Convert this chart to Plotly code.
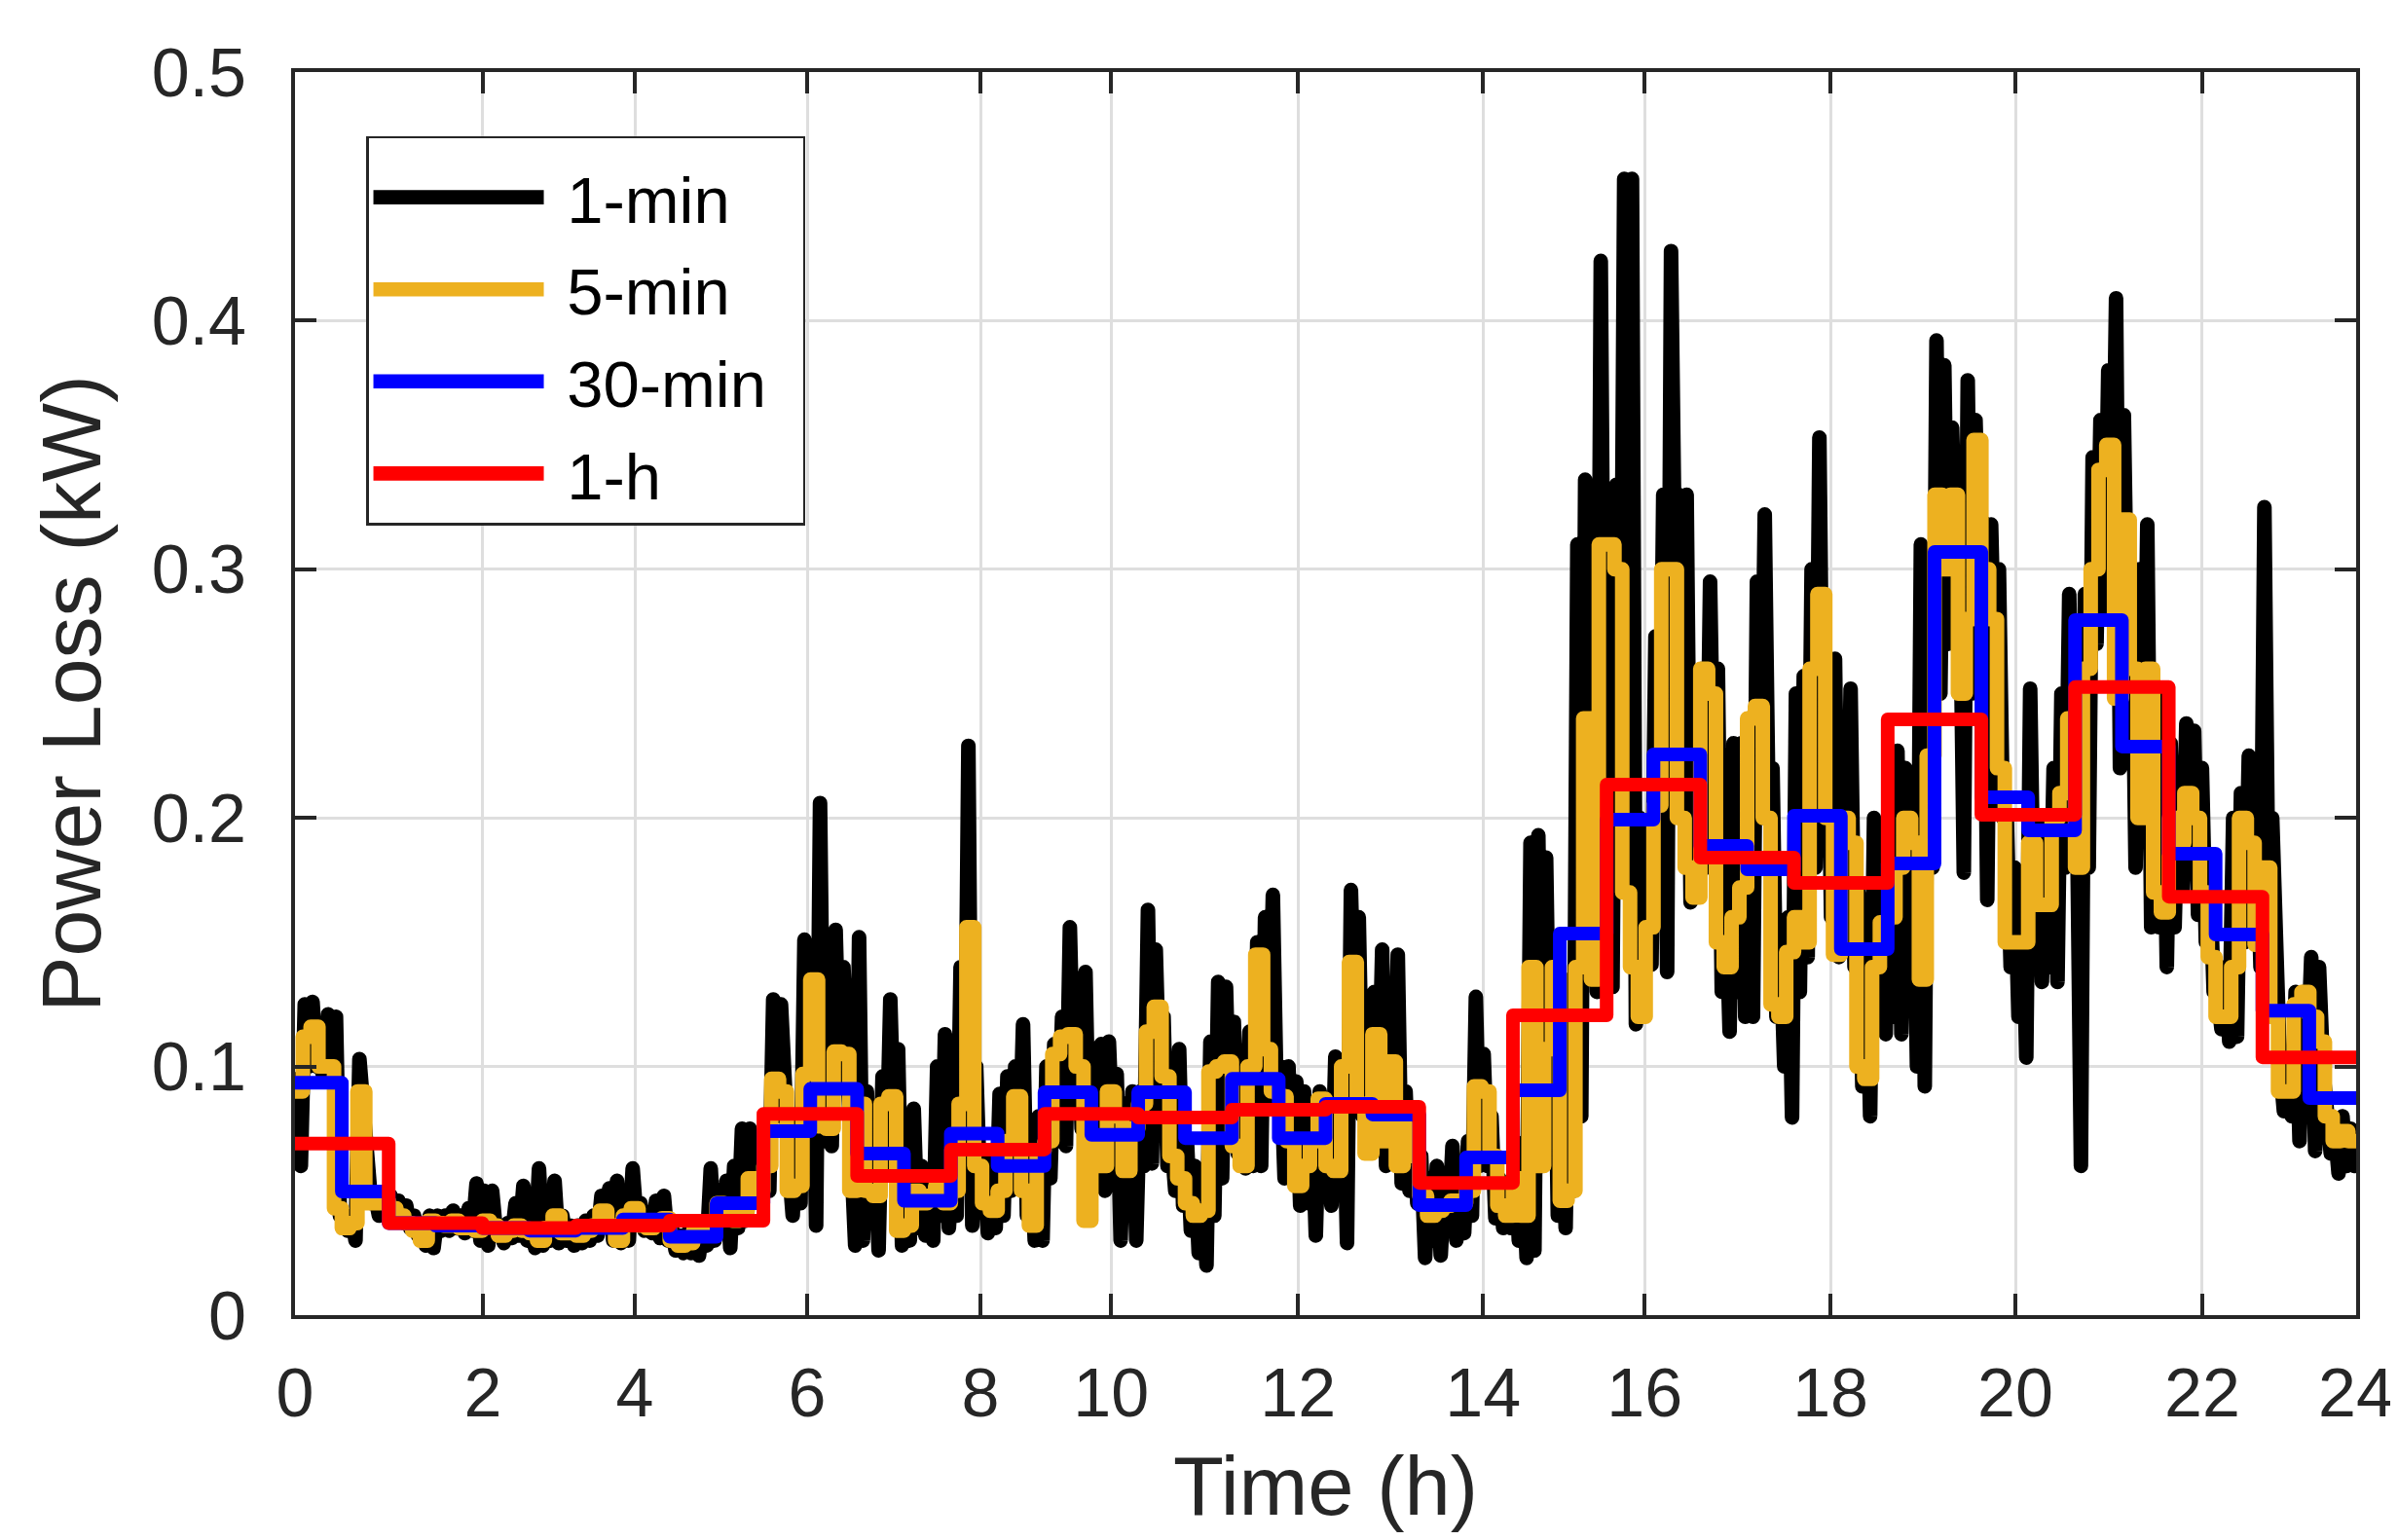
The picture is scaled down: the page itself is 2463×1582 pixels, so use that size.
import numpy as np
import plotly.graph_objects as go

# ---------------- data (kW) ----------------
tick_text = ["0", "2", "4", "6", "8", "10", "12", "14", "16", "18", "20", "22", "24"]
# positions of the time tick labels, in hours-of-data units (axis is not uniform)
tick_pos = [0, 2.005, 3.627, 5.467, 7.316, 8.711, 10.706, 12.680, 14.405, 16.389, 18.363, 20.357, 22.0]
y_tick_vals = [0, 0.1, 0.2, 0.3, 0.4, 0.5]
y_tick_text = ["0", "0.1", "0.2", "0.3", "0.4", "0.5"]
series_names = ["1-min", "5-min", "30-min", "1-h"]

loss_1h = [0.069, 0.037, 0.035, 0.036, 0.038, 0.081, 0.056, 0.0666, 0.081, 0.0795, 0.0826,
           0.0838, 0.0532, 0.1206, 0.2134, 0.184, 0.1738, 0.2396, 0.2013, 0.2526, 0.1683, 0.1037]

loss_30min = [0.0935, 0.0497, 0.037, 0.036, 0.035, 0.034, 0.035, 0.0385, 0.0315, 0.045,
              0.074, 0.091, 0.065, 0.046, 0.073, 0.060, 0.0897, 0.0725, 0.0897, 0.0712,
              0.095, 0.0712, 0.085, 0.0807, 0.0442, 0.0634, 0.0904, 0.1535, 0.1993, 0.2255,
              0.1887, 0.1793, 0.2009, 0.1472, 0.1817, 0.307, 0.2083, 0.195, 0.2796, 0.2287,
              0.1856, 0.1531, 0.1225, 0.0873]

loss_5min = [
    0.09, 0.112, 0.116, 0.1, 0.1, 0.043, 0.035, 0.037, 0.09, 0.045, 0.045, 0.046,
    0.043, 0.04, 0.037, 0.034, 0.03, 0.038, 0.037, 0.036, 0.038, 0.035, 0.036, 0.034,
    0.038, 0.036, 0.032, 0.034, 0.036, 0.034, 0.033, 0.03, 0.035, 0.04, 0.033, 0.033,
    0.032, 0.034, 0.036, 0.042, 0.036, 0.03, 0.04, 0.043, 0.036, 0.035, 0.038, 0.039,
    0.03, 0.028, 0.029, 0.034, 0.032, 0.036, 0.045, 0.04, 0.038, 0.042, 0.055, 0.05,
    0.06, 0.095, 0.09, 0.05, 0.052, 0.097, 0.135, 0.076, 0.075, 0.106, 0.105, 0.05,
    0.085, 0.05, 0.048, 0.085, 0.088, 0.034, 0.036, 0.05, 0.045, 0.048, 0.052, 0.045,
    0.05, 0.085, 0.156, 0.06, 0.045, 0.042, 0.05, 0.07, 0.088, 0.05, 0.036, 0.066,
    0.07, 0.105, 0.112, 0.113, 0.1, 0.038, 0.072, 0.06, 0.09, 0.08, 0.058, 0.075,
    0.085, 0.114, 0.124, 0.096, 0.064, 0.055, 0.045, 0.04, 0.042, 0.098, 0.1, 0.102,
    0.068, 0.06, 0.1, 0.145, 0.107, 0.09, 0.088, 0.07, 0.052, 0.06, 0.07, 0.087,
    0.06, 0.058, 0.1, 0.142, 0.085, 0.065, 0.113, 0.07, 0.102, 0.06, 0.075, 0.064,
    0.048, 0.04, 0.042, 0.044, 0.046, 0.045, 0.05, 0.092, 0.09, 0.064, 0.044, 0.04,
    0.055, 0.04, 0.14, 0.06, 0.107, 0.14, 0.046, 0.05, 0.14, 0.24, 0.135, 0.31,
    0.31, 0.3, 0.17, 0.14, 0.12, 0.156, 0.205, 0.3, 0.3, 0.2, 0.18, 0.168,
    0.26, 0.25, 0.15, 0.14, 0.16, 0.172, 0.24, 0.245, 0.2, 0.125, 0.12, 0.146,
    0.16, 0.15, 0.26, 0.29, 0.2, 0.145, 0.2, 0.19, 0.1, 0.095, 0.14, 0.158,
    0.16, 0.18, 0.2, 0.19, 0.135, 0.225, 0.33, 0.3, 0.33, 0.25, 0.28, 0.352,
    0.3, 0.28, 0.22, 0.15, 0.15, 0.15, 0.19, 0.165, 0.165, 0.2, 0.21, 0.24,
    0.18, 0.26, 0.3, 0.34, 0.35, 0.248, 0.32, 0.26, 0.2, 0.26, 0.17, 0.162,
    0.2, 0.19, 0.21, 0.2, 0.17, 0.144, 0.12, 0.12, 0.14, 0.2, 0.19, 0.149,
    0.18, 0.12, 0.09, 0.09, 0.125, 0.13, 0.12, 0.11, 0.08, 0.07, 0.074, 0.07,
]

# 1-min series, every 2.5 min
loss_1min = [
    0.095, 0.06, 0.125, 0.1, 0.126, 0.1, 0.1, 0.095, 0.121, 0.095, 0.12, 0.04, 0.04, 0.034, 0.04, 0.03, 0.103, 0.088, 0.06, 0.045, 0.048, 0.04, 0.048, 0.04,
    0.048, 0.04, 0.046, 0.038, 0.044, 0.035, 0.04, 0.032, 0.035, 0.028, 0.04, 0.027, 0.04, 0.034, 0.04, 0.034, 0.042, 0.035, 0.04, 0.033, 0.043, 0.034, 0.053, 0.03,
    0.05, 0.028, 0.05, 0.033, 0.035, 0.029, 0.037, 0.031, 0.045, 0.032, 0.052, 0.03, 0.038, 0.027, 0.059, 0.028, 0.04, 0.03, 0.054, 0.029, 0.04, 0.03, 0.036, 0.028,
    0.036, 0.029, 0.038, 0.03, 0.04, 0.032, 0.048, 0.036, 0.051, 0.03, 0.054, 0.029, 0.045, 0.03, 0.059, 0.038, 0.045, 0.034, 0.04, 0.033, 0.046, 0.031, 0.048, 0.03,
    0.035, 0.026, 0.032, 0.025, 0.033, 0.025, 0.036, 0.024, 0.036, 0.028, 0.059, 0.03, 0.05, 0.04, 0.054, 0.027, 0.06, 0.035, 0.075, 0.038, 0.075, 0.05, 0.06, 0.045,
    0.07, 0.05, 0.127, 0.08, 0.125, 0.07, 0.06, 0.04, 0.08, 0.045, 0.151, 0.09, 0.14, 0.036, 0.206, 0.07, 0.1, 0.068, 0.155, 0.095, 0.14, 0.1, 0.07, 0.028,
    0.152, 0.03, 0.09, 0.045, 0.07, 0.026, 0.096, 0.06, 0.127, 0.07, 0.107, 0.028, 0.06, 0.03, 0.083, 0.035, 0.06, 0.032, 0.055, 0.03, 0.1, 0.04, 0.113, 0.035,
    0.06, 0.04, 0.14, 0.06, 0.229, 0.036, 0.1, 0.05, 0.06, 0.033, 0.065, 0.035, 0.089, 0.04, 0.096, 0.05, 0.1, 0.06, 0.117, 0.04, 0.07, 0.03, 0.08, 0.03,
    0.1, 0.055, 0.109, 0.07, 0.12, 0.068, 0.156, 0.09, 0.13, 0.075, 0.138, 0.06, 0.09, 0.06, 0.109, 0.05, 0.11, 0.07, 0.097, 0.03, 0.085, 0.04, 0.09, 0.03,
    0.09, 0.06, 0.163, 0.061, 0.147, 0.09, 0.12, 0.06, 0.07, 0.05, 0.107, 0.044, 0.07, 0.034, 0.06, 0.025, 0.05, 0.02, 0.11, 0.04, 0.134, 0.055, 0.132, 0.07,
    0.118, 0.065, 0.08, 0.059, 0.114, 0.06, 0.15, 0.06, 0.16, 0.1, 0.169, 0.085, 0.1, 0.055, 0.1, 0.06, 0.094, 0.044, 0.09, 0.045, 0.08, 0.032, 0.09, 0.06,
    0.07, 0.044, 0.104, 0.05, 0.1, 0.029, 0.171, 0.11, 0.16, 0.08, 0.12, 0.066, 0.13, 0.08, 0.147, 0.06, 0.12, 0.08, 0.145, 0.053, 0.09, 0.05, 0.075, 0.045,
    0.064, 0.023, 0.055, 0.03, 0.06, 0.024, 0.055, 0.035, 0.068, 0.03, 0.06, 0.033, 0.07, 0.04, 0.128, 0.06, 0.105, 0.06, 0.08, 0.039, 0.055, 0.035, 0.05, 0.035,
    0.07, 0.03, 0.06, 0.023, 0.19, 0.026, 0.193, 0.06, 0.184, 0.08, 0.15, 0.04, 0.1, 0.035, 0.135, 0.05, 0.31, 0.08, 0.336, 0.15, 0.3, 0.13, 0.424, 0.2,
    0.31, 0.132, 0.334, 0.2, 0.457, 0.25, 0.457, 0.117, 0.2, 0.12, 0.18, 0.141, 0.273, 0.18, 0.33, 0.138, 0.428, 0.3, 0.33, 0.25, 0.33, 0.166, 0.248, 0.17,
    0.26, 0.18, 0.295, 0.2, 0.26, 0.13, 0.17, 0.114, 0.23, 0.13, 0.23, 0.12, 0.24, 0.12, 0.295, 0.2, 0.322, 0.2, 0.22, 0.12, 0.15, 0.1, 0.16, 0.0795,
    0.25, 0.13, 0.257, 0.144, 0.3, 0.18, 0.353, 0.2, 0.264, 0.16, 0.264, 0.144, 0.24, 0.15, 0.252, 0.14, 0.17, 0.092, 0.16, 0.08, 0.2, 0.12, 0.18, 0.113,
    0.2, 0.12, 0.227, 0.113, 0.22, 0.13, 0.2, 0.1, 0.31, 0.092, 0.3, 0.18, 0.392, 0.25, 0.382, 0.27, 0.357, 0.3, 0.3, 0.178, 0.376, 0.25, 0.36, 0.3,
    0.319, 0.167, 0.318, 0.25, 0.3, 0.2, 0.2, 0.14, 0.18, 0.12, 0.17, 0.1036, 0.252, 0.15, 0.2, 0.134, 0.19, 0.14, 0.22, 0.134, 0.25, 0.18, 0.29, 0.2,
    0.2, 0.06, 0.29, 0.18, 0.345, 0.27, 0.36, 0.28, 0.38, 0.3, 0.409, 0.22, 0.362, 0.26, 0.3, 0.18, 0.3, 0.2, 0.318, 0.156, 0.25, 0.156, 0.24, 0.14,
    0.23, 0.156, 0.22, 0.17, 0.238, 0.18, 0.235, 0.161, 0.22, 0.15, 0.18, 0.13, 0.13, 0.115, 0.14, 0.11, 0.2, 0.112, 0.21, 0.15, 0.225, 0.16, 0.2, 0.14,
    0.325, 0.17, 0.2, 0.11, 0.1, 0.082, 0.095, 0.08, 0.13, 0.07, 0.13, 0.1, 0.144, 0.066, 0.14, 0.1, 0.08, 0.065, 0.075, 0.057, 0.08, 0.06, 0.075, 0.06,
]

# ---------------- time bases (hours) ----------------
t_1min = (np.arange(len(loss_1min)) * 2.5 + 1.25) / 60.0
t_5min = np.append(np.arange(len(loss_5min)) * 5 / 60.0, len(loss_5min) * 5 / 60.0)
t_30min = np.append(np.arange(len(loss_30min)) * 0.5, len(loss_30min) * 0.5)
t_1h = np.append(np.arange(len(loss_1h)) * 1.0, len(loss_1h) * 1.0)

y_5min = loss_5min + [loss_5min[-1]]
y_30min = loss_30min + [loss_30min[-1]]
y_1h = loss_1h + [loss_1h[-1]]

FONT = "Liberation Sans, Arial, Helvetica, sans-serif"
AX = "#262626"
NB = "\u00a0"


def legend_label(name):
    # small gap between the legend line sample and its text
    return NB + name + (NB + "\u2009" if name == "30-min" else "")


fig = go.Figure()
fig.add_trace(go.Scatter(x=t_1min, y=loss_1min, mode="lines", name=legend_label(series_names[0]),
                         legendgroup="a", line=dict(color="#000000", width=15)))
fig.add_trace(go.Scatter(x=t_5min, y=y_5min, mode="lines", name=legend_label(series_names[1]),
                         legendgroup="b", line=dict(color="#EDB120", width=15, shape="hv")))
fig.add_trace(go.Scatter(x=t_30min, y=y_30min, mode="lines", name=legend_label(series_names[2]),
                         legendgroup="c", line=dict(color="#0000FF", width=14, shape="hv")))
fig.add_trace(go.Scatter(x=t_1h, y=y_1h, mode="lines", name=legend_label(series_names[3]),
                         legendgroup="d", line=dict(color="#FF0000", width=14, shape="hv")))

fig.update_layout(
    width=2463, height=1582,
    paper_bgcolor="white", plot_bgcolor="white",
    margin=dict(l=295, r=39, t=66, b=239),
    font=dict(family=FONT, color=AX),
    showlegend=True,
    legend=dict(x=0.0345, y=0.9486, xanchor="left", yanchor="top",
                bgcolor="white", bordercolor=AX, borderwidth=2.5,
                font=dict(size=67, color="#000000", family=FONT),
                title=dict(text=NB, font=dict(size=8, family=FONT)),
                itemwidth=175, traceorder="grouped", tracegroupgap=4.5),
    xaxis=dict(range=[0, 22], tickvals=tick_pos, ticktext=tick_text,
               showgrid=True, gridcolor="#dedede", gridwidth=3, zeroline=False,
               showline=True, linecolor=AX, linewidth=4, mirror="ticks",
               ticks="inside", ticklen=22, tickwidth=4, tickcolor=AX,
               tickfont=dict(size=70, color=AX, family=FONT), ticklabelstandoff=16,
               title=dict(text="Time (h)", font=dict(size=85, color=AX, family=FONT), standoff=28)),
    yaxis=dict(range=[0, 0.5], tickvals=y_tick_vals, ticktext=y_tick_text,
               showgrid=True, gridcolor="#dedede", gridwidth=3, zeroline=False,
               showline=True, linecolor=AX, linewidth=4, mirror="ticks",
               ticks="inside", ticklen=22, tickwidth=4, tickcolor=AX,
               tickfont=dict(size=70, color=AX, family=FONT), ticklabelstandoff=32,
               title=dict(text="Power Loss (kW)", font=dict(size=86, color=AX, family=FONT), standoff=25)),
)

css = (".scatterlayer .js-line{stroke-linejoin:round !important;stroke-linecap:round !important;}"
       ".legendlines path{stroke-width:14.6px !important;}")
post = ("var s=document.createElement('style');s.textContent=" + repr(css) +
        ";document.head.appendChild(s);")
fig.write_html("out.html", post_script=post)
